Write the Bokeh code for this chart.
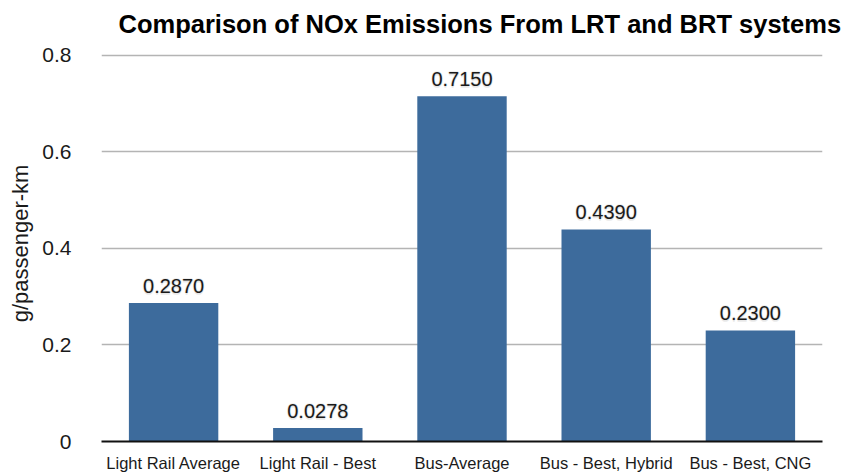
from bokeh.plotting import figure
from bokeh.models import ColumnDataSource, Range1d, FactorRange
from bokeh.core.properties import value
from bokeh.embed import file_html
from bokeh.resources import INLINE

# NOx emissions per passenger-km for each transit system
categories = ["Light Rail Average", "Light Rail - Best", "Bus-Average",
              "Bus - Best, Hybrid", "Bus - Best, CNG"]
emissions = [0.2870, 0.0278, 0.7150, 0.4390, 0.2300]
y_ticks = [0, 0.2, 0.4, 0.6, 0.8]
title_text = "Comparison of NOx Emissions From LRT and BRT systems"

FONT = "Liberation Sans"
BAR_COLOR = "#3d6b9c"

src = ColumnDataSource(dict(
    cat=categories,
    val=emissions,
    lbl=[f"{v:.4f}" for v in emissions],
))

p = figure(
    width=848, height=476,
    x_range=FactorRange(*categories, range_padding=0),
    y_range=Range1d(0, 0.82),
    output_backend="svg", toolbar_location=None,
    min_border_left=101, min_border_right=26,
    min_border_top=45, min_border_bottom=35,
    title=title_text,
)
p.outline_line_color = None
p.background_fill_color = "white"
p.border_fill_color = "white"

p.title.text_font = FONT
p.title.text_font_size = "25.5px"
p.title.text_font_style = "bold"
p.title.text_color = "black"
p.title.align = "left"
p.title.offset = 17
p.title.standoff = 12
p.title.vertical_align = "top"

# horizontal grid
p.xgrid.grid_line_color = None
p.ygrid.grid_line_color = "#b4b4b4"
p.ygrid.grid_line_width = 1.6
p.ygrid.ticker = y_ticks

p.vbar(x="cat", top="val", width=0.62, source=src,
       fill_color=BAR_COLOR, line_color=None)

# value labels with a soft glow behind them
for dx, dy in [(-1, 0), (1, 0), (0, -1), (0, 1), (0, 2)]:
    p.text(x="cat", y="val", text="lbl", source=src,
           text_font=value(FONT), text_font_size="20px",
           text_align="center", text_baseline="bottom",
           x_offset=dx, y_offset=-10 + dy,
           text_color="#cfcfcf", text_alpha=0.35)
p.text(x="cat", y="val", text="lbl", source=src,
       text_font=value(FONT), text_font_size="20px",
       text_align="center", text_baseline="bottom", y_offset=-10,
       text_color="#1a1a1a")

# axes
p.yaxis.ticker = y_ticks
p.yaxis.major_label_overrides = {0: "0", 0.2: "0.2", 0.4: "0.4", 0.6: "0.6", 0.8: "0.8"}
p.yaxis.axis_line_color = None
p.yaxis.major_tick_line_color = None
p.yaxis.minor_tick_line_color = None
p.yaxis.major_label_standoff = 24
p.yaxis.major_label_text_font = FONT
p.yaxis.major_label_text_font_size = "21px"
p.yaxis.major_label_text_color = "#1a1a1a"
p.yaxis.axis_label = "g/passenger-km"
p.yaxis.axis_label_text_font = FONT
p.yaxis.axis_label_text_font_size = "22px"
p.yaxis.axis_label_text_font_style = "normal"
p.yaxis.axis_label_text_color = "#1a1a1a"
p.yaxis.axis_label_standoff = 6

p.xaxis.axis_line_color = "#111111"
p.xaxis.axis_line_width = 2
p.xaxis.major_tick_line_color = None
p.xaxis.minor_tick_line_color = None
p.xaxis.major_label_standoff = 6
p.xaxis.major_label_text_font = FONT
p.xaxis.major_label_text_font_size = "16.5px"
p.xaxis.major_label_text_color = "#1a1a1a"

open("out.html", "w").write(file_html(p, INLINE))
